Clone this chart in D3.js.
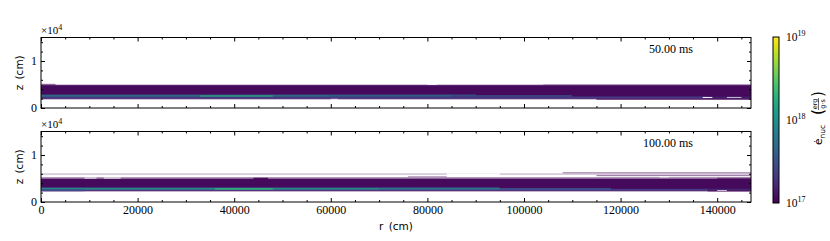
<!DOCTYPE html>
<html>
<head>
<meta charset="utf-8">
<script src="https://cdn.jsdelivr.net/npm/d3@7"></script>
<style>
  body { margin: 0; background: #fff; }
  svg { display: block; }
  .tick text { font-family: "Liberation Serif", "DejaVu Serif", serif; font-size: 12px; fill: #000; }
</style>
</head>
<body>
<svg id="chart" width="830" height="241"></svg>
<script>
// --- data (z and r in cm, eNuc in erg/g/s) ---
const panelTimes = ["50.00 ms", "100.00 ms"];
const rMax = 147000;
const zMax = 15000;
const xTicks = [0, 20000, 40000, 60000, 80000, 100000, 120000, 140000];
const yTicks = [0, 10000];
const cbTicks = [1e17, 1e18, 1e19];

// full-width horizontal layers: [z0, z1, eNuc, alpha]
const rows50 = [
  [1800, 5000, 1.0e17, 0.45],
  [2000, 4850, 1.12e17, 1],
  [2000, 2450, 2.2e17, 1],
];
const rows100 = [
  [5850, 6050, 1.0e17, 0.4],
  [2200, 5300, 1.0e17, 0.45],
  [2400, 4950, 1.12e17, 1],
  [2450, 2800, 2.2e17, 1],
];

// local patches: [r0, r1, z0, z1, eNuc, alpha]  (eNuc null -> empty)
const patches50 = [
  [0, 60000, 2450, 2700, 1.1e18, 1],
  [60000, 85000, 2450, 2700, 7.0e17, 1],
  [85000, 110000, 2450, 2700, 3.5e17, 1],
  [0, 90000, 2700, 2850, 4.0e17, 1],
  [33000, 48000, 2450, 2650, 2.0e18, 1],
  [0, 3000, 4800, 5150, 1.0e17, 0.5],
  [104000, 147000, 4850, 5050, 1.0e17, 0.3],
  [115000, 147000, 1700, 2000, 1.0e17, 0.6],
  [138000, 147000, 2000, 2600, 1.0e17, 0.5],
  [137000, 139000, 2150, 2350, null, 1],
  [142000, 145000, 2200, 2350, null, 1],
  [80000, 82000, 4900, 5050, null, 1],
  [60000, 61500, 1800, 1950, null, 1],
];
const patches100 = [
  [0, 70000, 2650, 2950, 1.3e18, 1],
  [70000, 95000, 2650, 2950, 8.0e17, 1],
  [95000, 118000, 2650, 2950, 3.5e17, 1],
  [0, 95000, 2950, 3100, 4.0e17, 1],
  [36000, 48000, 2650, 2900, 2.2e18, 1],
  [9000, 11500, 5000, 5200, null, 1],
  [13000, 16500, 5000, 5200, null, 1],
  [44000, 47000, 4900, 5150, 1.0e17, 0.9],
  [84000, 95000, 5750, 6100, null, 1],
  [76000, 84000, 5300, 5500, 1.0e17, 0.4],
  [108000, 147000, 6100, 6350, 1.0e17, 0.45],
  [115000, 147000, 5500, 5750, 1.0e17, 0.5],
  [128000, 130000, 5250, 5450, null, 1],
  [140000, 147000, 4950, 5150, 1.0e17, 0.7],
  [138000, 147000, 2200, 2700, 1.0e17, 0.5],
  [140000, 142000, 2350, 2500, null, 1],
  [0, 9000, 2300, 2650, 2.8e17, 1],
];

const panelRows = [rows50, rows100];
const panelPatches = [patches50, patches100];

// --- layout ---
const svg = d3.select("#chart");
const left = 41, right = 751;
const panelTops = [37.5, 131.5];
const panelBottoms = [108, 202];

const x = d3.scaleLinear().domain([0, rMax]).range([left, right]);
const color = d3.scaleSequentialLog(d3.interpolateViridis).domain([1e17, 1e19]).clamp(true);

panelTimes.forEach((label, i) => {
  const y = d3.scaleLinear().domain([0, zMax]).range([panelBottoms[i], panelTops[i]]);
  const g = svg.append("g");

  // heat map bands
  const cells = panelRows[i].map(d => [0, rMax, d[0], d[1], d[2], d[3]])
    .concat(panelPatches[i]);
  g.selectAll("rect.cell")
    .data(cells)
    .join("rect")
    .attr("class", "cell")
    .attr("x", d => x(d[0]))
    .attr("width", d => x(d[1]) - x(d[0]))
    .attr("y", d => y(d[3]))
    .attr("height", d => y(d[2]) - y(d[3]))
    .attr("fill", d => d[4] === null ? "#fff" : color(d[4]))
    .attr("fill-opacity", d => d[5]);

  const isLast = i === panelTimes.length - 1;

  // x axes (bottom + top), ticks pointing in
  const xMinor = d3.range(0, rMax, 5000).filter(v => v % 20000 !== 0);
  g.append("g")
    .attr("transform", `translate(0,${panelBottoms[i]})`)
    .call(d3.axisBottom(x).tickValues(xTicks).tickSize(-4).tickPadding(3)
      .tickFormat(isLast ? d3.format("d") : ""));
  g.append("g")
    .attr("transform", `translate(0,${panelBottoms[i]})`)
    .call(d3.axisBottom(x).tickValues(xMinor).tickSize(-2).tickFormat(""));
  g.append("g")
    .attr("transform", `translate(0,${panelTops[i]})`)
    .call(d3.axisTop(x).tickValues(xTicks).tickSize(-4).tickFormat(""));
  g.append("g")
    .attr("transform", `translate(0,${panelTops[i]})`)
    .call(d3.axisTop(x).tickValues(xMinor).tickSize(-2).tickFormat(""));

  // y axes (left + right)
  const yMinor = [2000, 4000, 6000, 8000, 12000, 14000];
  g.append("g")
    .attr("transform", `translate(${left},0)`)
    .call(d3.axisLeft(y).tickValues(yTicks).tickSize(-4).tickPadding(4)
      .tickFormat(d => d / 1e4));
  g.append("g")
    .attr("transform", `translate(${left},0)`)
    .call(d3.axisLeft(y).tickValues(yMinor).tickSize(-2).tickFormat(""));
  g.append("g")
    .attr("transform", `translate(${right},0)`)
    .call(d3.axisRight(y).tickValues(yTicks).tickSize(-4).tickFormat(""));
  g.append("g")
    .attr("transform", `translate(${right},0)`)
    .call(d3.axisRight(y).tickValues(yMinor).tickSize(-2).tickFormat(""));

  g.selectAll(".domain").remove();

  // frame
  g.append("rect")
    .attr("x", left).attr("y", panelTops[i])
    .attr("width", right - left).attr("height", panelBottoms[i] - panelTops[i])
    .attr("fill", "none").attr("stroke", "#000").attr("stroke-width", 1);

  // offset text
  const off = g.append("text")
    .attr("x", left).attr("y", panelTops[i] - 3.5)
    .attr("font-family", "Liberation Serif, serif").attr("font-size", 11);
  off.append("tspan").text("×10");
  off.append("tspan").attr("dy", -4).attr("font-size", 8).text("4");

  // time label
  g.append("text")
    .attr("x", 693).attr("y", panelTops[i] + 15)
    .attr("text-anchor", "end")
    .attr("font-family", "Liberation Serif, serif").attr("font-size", 12)
    .text(label);

  // y label
  g.append("text")
    .attr("transform", `translate(23,${(panelTops[i] + panelBottoms[i]) / 2}) rotate(-90)`)
    .attr("text-anchor", "middle")
    .attr("font-family", "DejaVu Sans, sans-serif").attr("font-size", 10.5)
    .text("z\u2002(cm)");
});

// x label
svg.append("text")
  .attr("x", (left + right) / 2).attr("y", 230)
  .attr("text-anchor", "middle")
  .attr("font-family", "DejaVu Sans, sans-serif").attr("font-size", 10.5)
  .text("r\u2002(cm)");

// --- colour bar ---
const cbX = 773, cbW = 6, cbTop = 37, cbBottom = 203;
const cbScale = d3.scaleLog().domain([1e17, 1e19]).range([cbBottom, cbTop]);
const defs = svg.append("defs");
const grad = defs.append("linearGradient")
  .attr("id", "cbgrad").attr("x1", 0).attr("y1", 1).attr("x2", 0).attr("y2", 0);
grad.selectAll("stop")
  .data(d3.range(0, 1.0001, 0.05))
  .join("stop")
  .attr("offset", d => d)
  .attr("stop-color", d => d3.interpolateViridis(d));
svg.append("rect")
  .attr("x", cbX).attr("y", cbTop).attr("width", cbW).attr("height", cbBottom - cbTop)
  .attr("fill", "url(#cbgrad)").attr("stroke", "#000").attr("stroke-width", 1);

const cbLabels = svg.append("g");
cbTicks.forEach(v => {
  const t = cbLabels.append("text")
    .attr("x", cbX + cbW + 7).attr("y", cbScale(v) + 4)
    .attr("font-family", "Liberation Serif, serif").attr("font-size", 11.5);
  t.append("tspan").text("10");
  t.append("tspan").attr("dy", -5).attr("font-size", 8).text(Math.round(Math.log10(v)));
});

// colour bar label: e-dot_nuc (erg / g s)
const lab = svg.append("g")
  .attr("transform", `translate(818,${(cbTop + cbBottom) / 2}) rotate(-90)`);
const main = lab.append("text")
  .attr("x", -25).attr("y", 4)
  .attr("font-family", "DejaVu Sans, sans-serif").attr("font-size", 10.5);
main.append("tspan").text("\u0117");
main.append("tspan").attr("dy", 3).attr("font-size", 7.5).text("nuc");
lab.append("text")
  .attr("x", 5).attr("y", 5)
  .attr("font-family", "DejaVu Sans, sans-serif").attr("font-size", 15)
  .text("(");
lab.append("text").attr("x", 16).attr("y", -1).attr("text-anchor", "middle")
  .attr("font-family", "DejaVu Sans, sans-serif").attr("font-size", 6.5).text("erg");
lab.append("line").attr("x1", 10).attr("x2", 22).attr("y1", 0.5).attr("y2", 0.5)
  .attr("stroke", "#000").attr("stroke-width", 0.6);
lab.append("text").attr("x", 16).attr("y", 7).attr("text-anchor", "middle")
  .attr("font-family", "DejaVu Sans, sans-serif").attr("font-size", 6.5).text("g\u00b7s");
lab.append("text")
  .attr("x", 23).attr("y", 5)
  .attr("font-family", "DejaVu Sans, sans-serif").attr("font-size", 15)
  .text(")");
</script>
</body>
</html>
